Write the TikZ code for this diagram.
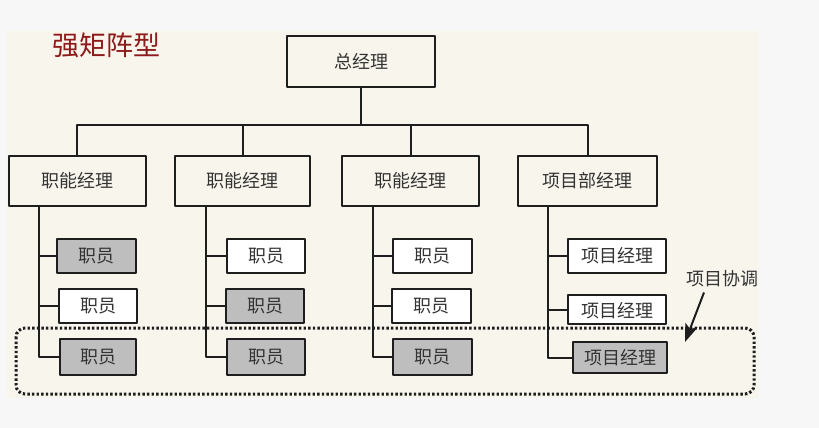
\documentclass[tikz,border=0pt]{standalone}
\usepackage{fontspec}
\newfontfamily\cjk{Noto Sans CJK SC}
\usetikzlibrary{arrows.meta}
\definecolor{bgout}{HTML}{F7F7F7}
\definecolor{bgin}{HTML}{F8F5EC}
\definecolor{titlered}{HTML}{8E1B1B}
\definecolor{boxgray}{HTML}{BEBEBE}
\definecolor{ink}{HTML}{1E1E1E}
\tikzset{
  mgr/.style={draw=ink,line width=2pt,fill=bgin,minimum height=50pt,
    font=\cjk\fontsize{18}{18}\selectfont,text=black!80},
  staff/.style={draw=ink,line width=2pt,fill=white,minimum height=34pt,
    inner sep=0pt,font=\cjk\fontsize{18}{18}\selectfont,text=black!80},
  staffgray/.style={staff,fill=boxgray},
  link/.style={draw=ink,line width=2pt}
}
\begin{document}
\begin{tikzpicture}[line join=round,x=1pt,y=-1pt]
\useasboundingbox[fill=bgout] (0,0) rectangle (819,428);
\fill[bgin] (7,31) rectangle (759,398);
\node[font=\cjk\fontsize{27}{27}\selectfont,text=titlered] (title) at (106,45.5) {强矩阵型};
% top and second level
\node[mgr,minimum width=148pt,minimum height=51pt] (gm) at (361,61.5) {总经理};
\node[mgr,minimum width=137pt] (fm1) at (77,181) {职能经理};
\node[mgr,minimum width=135pt] (fm2) at (242.5,181) {职能经理};
\node[mgr,minimum width=137pt] (fm3) at (410.5,181) {职能经理};
\node[mgr,minimum width=139pt] (pm) at (587.5,181) {项目部经理};
\draw[link] (gm.south) -- ++(0,37) coordinate (bus);
\draw[link] (fm1.north) |- (bus) -| (pm.north);
\draw[link] (fm2.north) -- (fm2.north |- bus);
\draw[link] (fm3.north) -- (fm3.north |- bus);
% staff boxes
\node[staffgray,minimum width=79pt] (e11) at (96.5,256) {职员};
\node[staff,minimum width=78pt] (e12) at (98,306) {职员};
\node[staffgray,minimum width=76pt,minimum height=36pt] (e13) at (98,357) {职员};
\node[staff,minimum width=78pt] (e21) at (266,256) {职员};
\node[staffgray,minimum width=78pt] (e22) at (265,306) {职员};
\node[staffgray,minimum width=78pt,minimum height=36pt] (e23) at (266,357) {职员};
\node[staff,minimum width=79pt] (e31) at (432.5,256) {职员};
\node[staff,minimum width=79pt] (e32) at (431.5,306) {职员};
\node[staffgray,minimum width=79pt,minimum height=36pt] (e33) at (432.5,357) {职员};
\node[staff,minimum width=98pt] (p1) at (617,256) {项目经理};
\node[staff,minimum width=98pt,minimum height=29pt,text depth=-6pt] (p2) at (617,309.5) {项目经理};
\node[staffgray,minimum width=94pt,minimum height=31pt] (p3) at (620,357.5) {项目经理};
% spines
\coordinate (s1) at (39,206);
\coordinate (s2) at (206,206);
\coordinate (s3) at (373,206);
\coordinate (s4) at (548,206);
\draw[link] (s1) |- (e11.west); \draw[link] (s1) |- (e12.west); \draw[link] (s1) |- (e13.west);
\draw[link] (s2) |- (e21.west); \draw[link] (s2) |- (e22.west); \draw[link] (s2) |- (e23.west);
\draw[link] (s3) |- (e31.west); \draw[link] (s3) |- (e32.west); \draw[link] (s3) |- (e33.west);
\draw[link] (s4) |- (p1.west); \draw[link] (s4) |- (p2.west); \draw[link] (s4) |- (p3.west);
% coordination frame
\draw[ink,line width=3pt,dash pattern=on 2.4pt off 2.2pt,rounded corners=9pt]
  (16,328) rectangle (754,394);
\node[font=\cjk\fontsize{18}{18}\selectfont,text=black!80,inner sep=1pt] (coord) at (722,279) {项目协调};
\coordinate (tgt) at (685,342);
\draw[ink,line width=2pt,-{Stealth[length=18pt,width=13pt,inset=4pt]}] ([xshift=-18pt,yshift=-4pt]coord.south) -- (tgt);
\end{tikzpicture}
\end{document}
